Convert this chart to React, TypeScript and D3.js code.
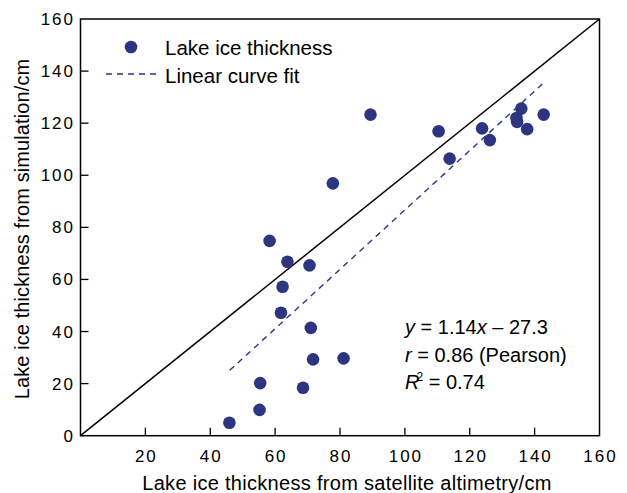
import React from "react";
import * as d3 from "d3";

const satX = [45.9, 55.2, 55.4, 68.6, 71.7, 81.1, 71.0, 61.8, 62.3, 58.3, 63.8, 70.6, 77.8, 89.4, 110.4, 113.8, 123.8, 126.2, 135.9, 134.4, 134.6, 137.7, 142.8];
const simY = [5.0, 9.9, 20.2, 18.4, 29.3, 29.7, 41.4, 47.2, 57.2, 74.8, 66.8, 65.4, 96.9, 123.3, 116.9, 106.4, 118.0, 113.5, 125.6, 122.0, 120.5, 117.7, 123.3];
const fitX = [46, 142.8];
const fitY = [25.1, 135.5];
const xTicks = [20, 40, 60, 80, 100, 120, 140, 160];
const yTicks = [0, 20, 40, 60, 80, 100, 120, 140, 160];

const W = 627, H = 493;
const L = 80.5, R = 599.5, T = 19, B = 435.7;
const DOT = "#2d3581";
const FONT = "Arial, 'Liberation Sans', Helvetica, sans-serif";

export default function App() {
  const x = d3.scaleLinear().domain([0, 160]).range([L, R]);
  const y = d3.scaleLinear().domain([0, 160]).range([B, T]);
  const line = d3.line<number>().x((d) => x(d)).y((d, i) => y(fitY[i]));
  return (
    <svg width={W} height={H} style={{ position: "absolute", left: 0, top: 0, background: "#fff" }} fontFamily={FONT}>
      <rect x={0} y={0} width={W} height={H} fill="#fff" />
      {/* 1:1 line */}
      <line x1={x(0)} y1={y(0)} x2={x(160)} y2={y(160)} stroke="#000" strokeWidth={1.5} />
      {/* fit line */}
      <path d={line(fitX) || ""} fill="none" stroke={DOT} strokeWidth={1.4} strokeDasharray="6,5" />
      {/* points */}
      {satX.map((v, i) => (
        <circle key={i} cx={x(v)} cy={y(simY[i])} r={6.3} fill={DOT} />
      ))}
      {/* frame */}
      <rect x={L} y={T} width={R - L} height={B - T} fill="none" stroke="#000" strokeWidth={1.5} />
      {/* x ticks */}
      {xTicks.map((t) => (
        <g key={"x" + t}>
          {t < 160 && <line x1={x(t)} x2={x(t)} y1={B} y2={B - 8} stroke="#000" strokeWidth={1.3} />}
          <text x={x(t) + 1} y={462} textAnchor="middle" fontSize={17} letterSpacing={2} fill="#000">{t}</text>
        </g>
      ))}
      {/* y ticks */}
      {yTicks.map((t) => (
        <g key={"y" + t}>
          {t > 0 && t < 160 && <line x1={L} x2={L + 8} y1={y(t)} y2={y(t)} stroke="#000" strokeWidth={1.3} />}
          <text x={75} y={y(t) + 6} textAnchor="end" fontSize={17} letterSpacing={2} fill="#000">{t}</text>
        </g>
      ))}
      {/* axis titles */}
      <text x={347} y={490} textAnchor="middle" fontSize={20} letterSpacing={0.3} fill="#000">
        Lake ice thickness from satellite altimetry/cm
      </text>
      <text transform={`translate(29, 229) rotate(-90)`} textAnchor="middle" fontSize={20} letterSpacing={0.1} fill="#000">
        Lake ice thickness from simulation/cm
      </text>
      {/* legend */}
      <circle cx={131} cy={47} r={6.3} fill={DOT} />
      <text x={165} y={55} fontSize={20.5} fill="#000">Lake ice thickness</text>
      <line x1={106} x2={157} y1={74} y2={74} stroke={DOT} strokeWidth={1.4} strokeDasharray="6,5" />
      <text x={165} y={83} fontSize={20.5} fill="#000">Linear curve fit</text>
      {/* annotation */}
      <text x={405} y={334} fontSize={20} fill="#000">
        <tspan fontStyle="italic">y</tspan> = 1.14<tspan fontStyle="italic">x</tspan> – 27.3
      </text>
      <text x={405} y={362} fontSize={20} fill="#000">
        <tspan fontStyle="italic">r</tspan> = 0.86 (Pearson)
      </text>
      <text x={405} y={389} fontSize={20} fill="#000">
        <tspan fontStyle="italic">R</tspan><tspan fontSize={12} dy={-8} dx={-3}>2</tspan><tspan dy={8}> = 0.74</tspan>
      </text>
    </svg>
  );
}
